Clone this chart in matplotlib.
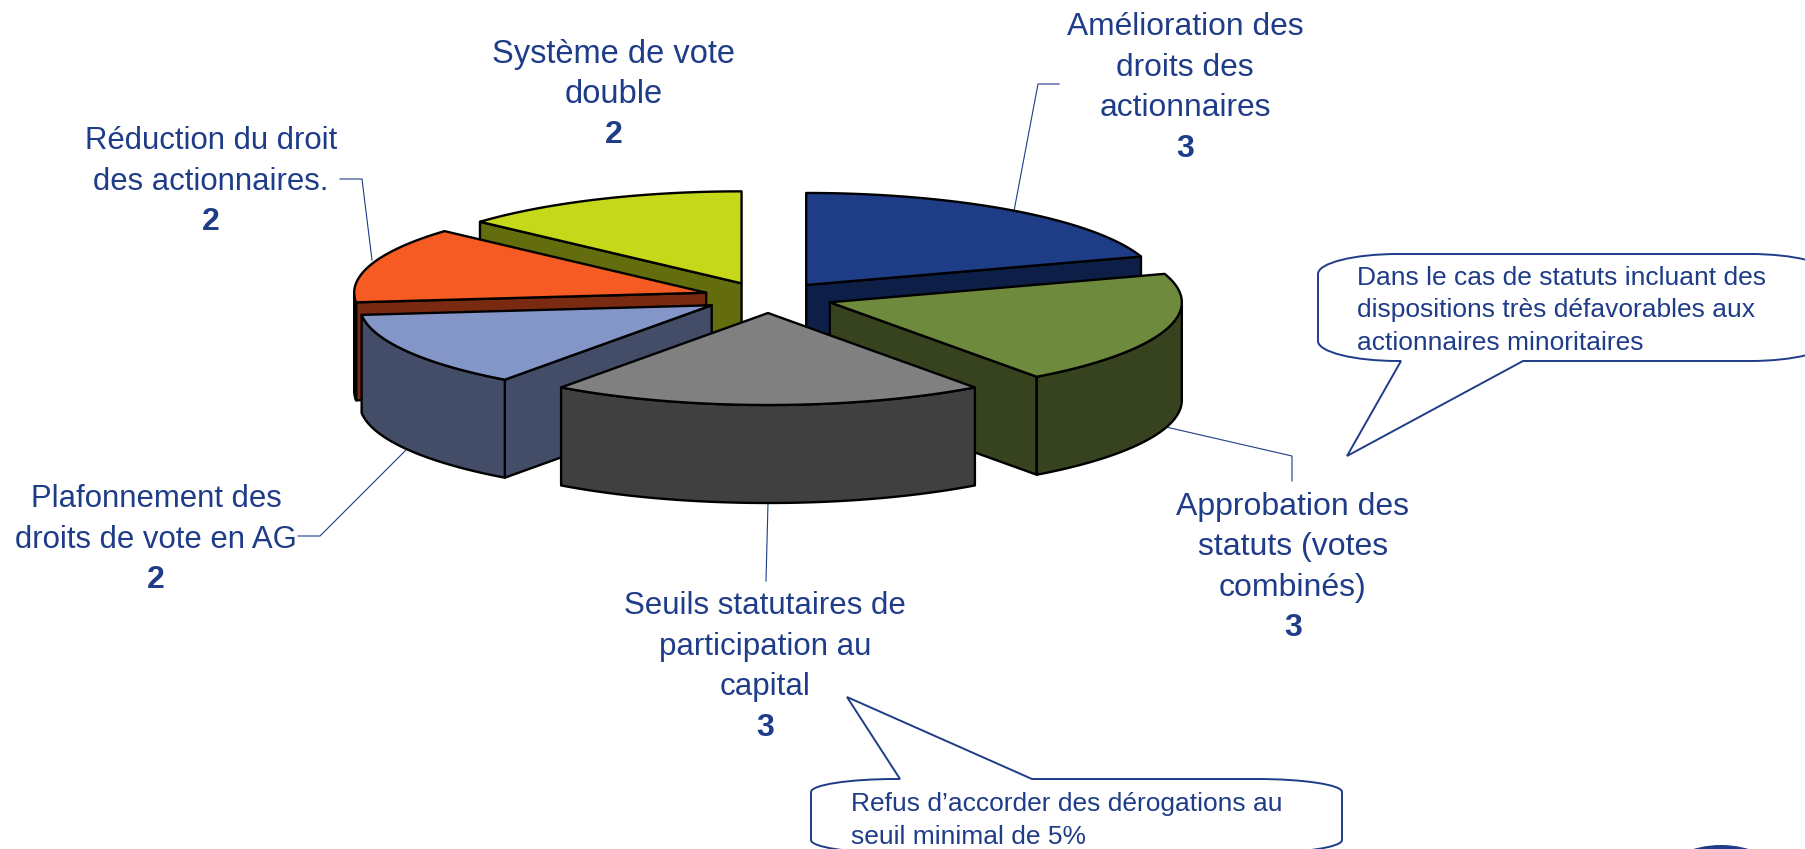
import numpy as np
import matplotlib
matplotlib.use('Agg')
import matplotlib.pyplot as plt
from matplotlib.patches import Polygon, PathPatch, Ellipse
from matplotlib.path import Path

plt.rcParams['font.family'] = ['Liberation Sans', 'DejaVu Sans']

# data, clockwise from 12 o'clock
categories = ['Amélioration des\ndroits des\nactionnaires',
              'Approbation des\nstatuts (votes\ncombinés)',
              'Seuils statutaires de\nparticipation au\ncapital',
              'Plafonnement des\ndroits de vote en AG',
              'Réduction du droit\ndes actionnaires.',
              'Système de vote\ndouble']
values = [3, 3, 3, 2, 2, 2]
top_colors = ['#1F3C87', '#6E8B3D', '#808080', '#8496C8', '#F55B22', '#C5D91A']
side_colors = ['#0E1F47', '#37431E', '#404040', '#444D68', '#7A2A10', '#636D0D']

note_stat = ['Dans le cas de statuts incluant des',
             'dispositions très défavorables aux',
             'actionnaires minoritaires']
note_seuil = ['Refus d’accorder des dérogations au',
              'seuil minimal de 5%']

# label centre x and y of first line, in pixels
label_pos = [(1185, 27), (1293, 507), (765, 606), (156, 499), (211, 141), (614, 54)]
label_size = [22.9, 23.0, 22.5, 22.4, 22.4, 23.5]
leaders = [[(1059, 84), (1038, 84), (1014, 211)],
           [(1292, 481), (1292, 456), (1166, 427)],
           [(766, 581), (768, 503)],
           [(298, 536), (320, 536), (406, 450)],
           [(340, 179), (362, 179), (372, 260)],
           []]

navy = '#1F3C88'
cx, cy = 768, 297.5
rx, ry = 352, 92
depth = 98
explode_x, explode_y = 65, 15.5
K = 0.55


def arc(x0, y0, a0, a1, shift=0):
    t = np.radians(np.linspace(a0, a1, 80))
    return np.column_stack([x0 + rx * np.sin(t), y0 - ry * np.cos(t) + shift])


def face(x0, y0, a):
    p = arc(x0, y0, a, a)[0]
    return [(x0, y0), tuple(p), (p[0], p[1] + depth), (x0, y0 + depth)]


def draw_wedge(ax, a0, a1, top, side):
    mid = np.radians((a0 + a1) / 2)
    x0 = cx + explode_x * np.sin(mid)
    y0 = cy - explode_y * np.cos(mid)
    style = dict(edgecolor='black', linewidth=1.7, joinstyle='round')
    # visible cut faces
    if np.sin(np.radians(a0)) < -1e-6:
        ax.add_patch(Polygon(face(x0, y0, a0), facecolor=side, zorder=z[0], **style))
    if np.sin(np.radians(a1)) > 1e-6:
        ax.add_patch(Polygon(face(x0, y0, a1), facecolor=side, zorder=z[0], **style))
    # outer wall, front half only
    w0, w1 = max(a0, 90), min(a1, 270)
    if w1 > w0:
        pts = np.vstack([arc(x0, y0, w0, w1), arc(x0, y0, w1, w0, depth)])
        ax.add_patch(Polygon(pts, facecolor=side, zorder=z[0], **style))
    pts = np.vstack([[(x0, y0)], arc(x0, y0, a0, a1)])
    ax.add_patch(Polygon(pts, facecolor=top, zorder=z[0], **style))
    z[0] += 1


def bubble(ax, left, top, right, bottom, rw, rh, p0, tip, p1):
    # rounded box with elliptical corners and a pointer on the top or bottom edge
    c4 = [Path.CURVE4] * 3
    verts = [(left, top + rh), (left, top + rh * (1 - K)), (left + rw * (1 - K), top), (left + rw, top)]
    codes = [Path.MOVETO] + c4
    if tip[1] < top:
        verts += [(p0, top), tip, (p1, top)]
        codes += [Path.LINETO] * 3
    verts += [(right - rw, top), (right - rw * (1 - K), top), (right, top + rh * (1 - K)), (right, top + rh),
              (right, bottom - rh), (right, bottom - rh * (1 - K)), (right - rw * (1 - K), bottom), (right - rw, bottom)]
    codes += [Path.LINETO] + c4 + [Path.LINETO] + c4
    if tip[1] > bottom:
        verts += [(p1, bottom), tip, (p0, bottom)]
        codes += [Path.LINETO] * 3
    verts += [(left + rw, bottom), (left + rw * (1 - K), bottom), (left, bottom - rh * (1 - K)), (left, bottom - rh),
              (left, top + rh)]
    codes += [Path.LINETO] + c4 + [Path.LINETO]
    ax.add_patch(PathPatch(Path(verts, codes), facecolor='white', edgecolor=navy,
                           linewidth=1.4, zorder=30))


fig = plt.figure(figsize=(18.05, 8.49), dpi=100)
ax = fig.add_axes([0, 0, 1, 1])
ax.set_xlim(0, 1805)
ax.set_ylim(849, 0)
ax.axis('off')

# leader lines go under the pie
for pts in leaders:
    if pts:
        ax.plot(*zip(*pts), color=navy, linewidth=0.8, zorder=1)

angles = np.concatenate([[0], np.cumsum(values)]) * 360 / sum(values)
z = [5]
# back to front
for i in [5, 0, 4, 3, 1, 2]:
    draw_wedge(ax, angles[i], angles[i + 1], top_colors[i], side_colors[i])

line_h = 40.5
for cat, val, (x, y), size in zip(categories, values, label_pos, label_size):
    lines = cat.split('\n')
    for j, line in enumerate(lines):
        ax.text(x, y + j * line_h, line, ha='center', va='center', color=navy,
                fontsize=size, zorder=40)
    ax.text(x, y + len(lines) * line_h, str(val), ha='center', va='center', color=navy,
            fontsize=23, fontweight='bold', zorder=40)

bubble(ax, 1318, 254, 1830, 361, 80, 20, 1401, (1347, 456), 1523)
bubble(ax, 811, 779, 1342, 853, 85, 13, 900, (847, 697), 1032)

for j, line in enumerate(note_stat):
    ax.text(1357, 278 + j * 32.5, line, ha='left', va='center', color=navy, fontsize=19, zorder=40)
for j, line in enumerate(note_seuil):
    ax.text(851, 804 + j * 33, line, ha='left', va='center', color=navy, fontsize=19, zorder=40)

# logo edge at the bottom
ax.add_patch(Ellipse((1721, 875), 110, 60, facecolor=navy, edgecolor='none', zorder=20))

fig.savefig('out.png', dpi=100)
